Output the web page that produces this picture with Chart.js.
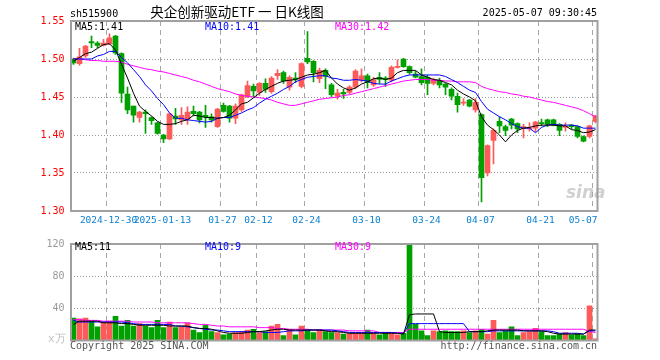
<!DOCTYPE html>
<html>
<head>
<meta charset="utf-8">
<script src="https://cdn.jsdelivr.net/npm/chart.js@4.4.1/dist/chart.umd.min.js"></script>
<style>
  html, body { margin: 0; padding: 0; background: #fff; }
  #wrap { position: relative; width: 660px; height: 360px; overflow: hidden; }
  #wrap canvas { position: absolute; left: 0; }
  .t { position: absolute; white-space: nowrap; font: 10px/10px "DejaVu Sans Mono", monospace; color: #000; }
</style>
</head>
<body>
<div id="wrap">
  <canvas id="price" width="660" height="232" style="top:0"></canvas>
  <canvas id="vol" width="660" height="128" style="top:232px"></canvas>

  <div class="t" style="left:70px;top:8.5px">sh515900</div>
  <div class="t" style="left:237px;top:5px;transform:translateX(-50%);font:13.5px/13.5px 'Noto Sans CJK SC',sans-serif">央企创新驱动ETF 一 日K线图</div>
  <div class="t" style="right:63px;top:8px">2025-05-07 09:30:45</div>

  <div class="t" style="left:75px;top:21.5px">MA5:1.41</div>
  <div class="t" style="left:205px;top:21.5px;color:#0000ff">MA10:1.41</div>
  <div class="t" style="left:335px;top:21.5px;color:#ff00ff">MA30:1.42</div>

  <div class="t" style="left:566px;top:184px;font:italic bold 17px/17px 'DejaVu Sans',sans-serif;color:rgba(150,150,150,0.45)">sina</div>

  <div class="t" style="left:75px;top:241.5px">MA5:11</div>
  <div class="t" style="left:205px;top:241.5px;color:#0000ff">MA10:9</div>
  <div class="t" style="left:335px;top:241.5px;color:#ff00ff">MA30:9</div>

  <div class="t" style="left:48px;top:334px;font-size:11px;color:#c0c0c0">x万</div>
  <div class="t" style="left:70px;top:340.5px;color:#555">Copyright 2025 SINA.COM</div>
  <div class="t" style="right:63px;top:340.5px;color:#555">http://finance.sina.com.cn</div>
</div>

<script>
/* data
# ------------------------------------------------------------------------------------------------
*/
const dates = [
  '12-20','12-23','12-24','12-25','12-26','12-27','12-30','12-31',
  '01-02','01-03','01-06','01-07','01-08','01-09','01-10','01-13','01-14','01-15','01-16','01-17',
  '01-20','01-21','01-22','01-23','01-24','01-27',
  '02-05','02-06','02-07','02-10','02-11','02-12','02-13','02-14','02-17','02-18','02-19','02-20',
  '02-21','02-24','02-25','02-26','02-27','02-28',
  '03-03','03-04','03-05','03-06','03-07','03-10','03-11','03-12','03-13','03-14','03-17','03-18',
  '03-19','03-20','03-21','03-24','03-25','03-26','03-27','03-28','03-31',
  '04-01','04-02','04-03','04-07','04-08','04-09','04-10','04-11','04-14','04-15','04-16','04-17',
  '04-18','04-21','04-22','04-23','04-24','04-25','04-28','04-29','04-30',
  '05-06','05-07'
];

const tickIdx = [6, 15, 25, 31, 39, 49, 59, 68, 78, 87];
const tickText = ['2024-12-30', '2025-01-13', '01-27', '02-12', '02-24', '03-10', '03-24', '04-07', '04-21', '05-07    '];

const opens = [
  1.500,1.494,1.504,1.523,1.521,1.518,1.520,1.530,1.507,1.454,
  1.438,1.423,1.430,1.423,1.416,1.400,1.395,1.425,1.420,1.421,
  1.431,1.430,1.426,1.424,1.411,1.439,1.438,1.422,1.433,1.450,
  1.464,1.456,1.468,1.457,1.478,1.482,1.463,1.475,1.464,1.501,
  1.497,1.474,1.485,1.466,1.451,1.456,1.456,1.463,1.472,1.478,
  1.466,1.476,1.475,1.472,1.489,1.500,1.490,1.480,1.477,1.476,
  1.468,1.472,1.467,1.460,1.451,1.442,1.446,1.433,1.427,1.350,
  1.393,1.418,1.411,1.421,1.415,1.409,1.408,1.409,1.416,1.420,
  1.420,1.414,1.410,1.413,1.411,1.398,1.398,1.418
];
const highs = [
  1.501,1.514,1.518,1.530,1.523,1.526,1.533,1.531,1.508,1.463,
  1.438,1.431,1.433,1.424,1.417,1.401,1.429,1.435,1.436,1.437,
  1.438,1.431,1.439,1.428,1.435,1.442,1.439,1.441,1.454,1.471,
  1.467,1.469,1.474,1.477,1.486,1.484,1.478,1.482,1.495,1.536,
  1.498,1.488,1.487,1.468,1.460,1.460,1.465,1.486,1.487,1.480,
  1.476,1.482,1.477,1.491,1.499,1.501,1.491,1.484,1.487,1.479,
  1.475,1.475,1.468,1.462,1.455,1.448,1.447,1.448,1.428,1.387,
  1.408,1.424,1.413,1.422,1.416,1.414,1.416,1.418,1.421,1.421,
  1.421,1.415,1.416,1.414,1.412,1.399,1.413,1.426
];
const lows = [
  1.493,1.492,1.502,1.515,1.515,1.517,1.519,1.506,1.443,1.428,
  1.417,1.417,1.402,1.414,1.401,1.390,1.394,1.414,1.414,1.414,
  1.425,1.416,1.410,1.417,1.410,1.430,1.417,1.415,1.431,1.449,
  1.450,1.452,1.456,1.455,1.473,1.468,1.459,1.469,1.462,1.494,
  1.470,1.469,1.461,1.450,1.447,1.448,1.454,1.461,1.470,1.462,
  1.464,1.468,1.464,1.470,1.488,1.489,1.480,1.475,1.466,1.453,
  1.466,1.462,1.453,1.446,1.430,1.439,1.437,1.430,1.312,1.346,
  1.362,1.403,1.399,1.408,1.403,1.396,1.405,1.404,1.412,1.411,
  1.412,1.399,1.405,1.408,1.396,1.391,1.396,1.416
];
const closes = [
  1.495,1.503,1.517,1.521,1.518,1.521,1.528,1.508,1.455,1.433,
  1.426,1.430,1.428,1.419,1.402,1.395,1.428,1.421,1.426,1.430,
  1.428,1.420,1.424,1.420,1.434,1.431,1.422,1.438,1.453,1.465,
  1.458,1.468,1.460,1.475,1.481,1.471,1.476,1.473,1.494,1.496,
  1.482,1.485,1.477,1.453,1.455,1.454,1.463,1.484,1.478,1.469,
  1.473,1.473,1.473,1.489,1.490,1.490,1.482,1.476,1.469,1.468,
  1.473,1.466,1.463,1.451,1.440,1.443,1.438,1.443,1.344,1.386,
  1.406,1.412,1.406,1.413,1.408,1.411,1.409,1.417,1.415,1.414,
  1.413,1.406,1.411,1.411,1.398,1.392,1.412,1.425
];

const ma5 = [
  1.497,1.502,1.507,1.509,1.514,1.519,1.520,1.512,1.493,1.475,
  1.455,1.438,1.431,1.425,1.418,1.414,1.414,1.415,1.418,1.420,
  1.426,1.425,1.423,1.423,1.422,1.423,1.426,1.433,1.441,1.443,
  1.449,1.455,1.460,1.464,1.468,1.471,1.472,1.473,1.476,1.479,
  1.480,1.482,1.485,1.475,1.467,1.462,1.459,1.462,1.467,1.470,
  1.474,1.475,1.473,1.475,1.482,1.485,1.485,1.485,1.479,1.476,
  1.473,1.472,1.469,1.466,1.459,1.454,1.450,1.445,1.424,1.413,
  1.407,1.400,1.391,1.400,1.406,1.409,1.410,1.412,1.413,1.413,
  1.413,1.412,1.412,1.407,1.406,1.403,1.404,1.407
];
const ma10 = [
  1.500,1.500,1.500,1.500,1.504,1.506,1.510,1.510,1.502,1.495,
  1.486,1.477,1.466,1.458,1.448,1.440,1.429,1.422,1.422,1.420,
  1.419,1.418,1.417,1.418,1.422,1.423,1.423,1.426,1.429,1.433,
  1.436,1.442,1.447,1.451,1.455,1.460,1.464,1.470,1.473,1.476,
  1.477,1.478,1.478,1.475,1.474,1.472,1.472,1.473,1.472,1.471,
  1.468,1.467,1.467,1.471,1.474,1.477,1.479,1.479,1.479,1.479,
  1.479,1.479,1.477,1.473,1.469,1.464,1.459,1.456,1.444,1.434,
  1.429,1.424,1.420,1.415,1.411,1.409,1.409,1.403,1.410,1.413,
  1.414,1.413,1.413,1.413,1.412,1.409,1.409,1.409
];
const ma30 = [
  1.501,1.500,1.499,1.498,1.498,1.497,1.497,1.497,1.496,1.493,
  1.491,1.489,1.487,1.486,1.484,1.483,1.481,1.479,1.477,1.475,
  1.472,1.470,1.467,1.464,1.461,1.459,1.457,1.454,1.452,1.451,
  1.450,1.449,1.448,1.446,1.443,1.441,1.439,1.439,1.441,1.443,
  1.445,1.447,1.448,1.449,1.450,1.452,1.453,1.455,1.457,1.459,
  1.461,1.463,1.465,1.467,1.469,1.471,1.472,1.473,1.473,1.473,
  1.472,1.472,1.471,1.471,1.470,1.470,1.470,1.469,1.464,1.461,
  1.459,1.457,1.456,1.454,1.453,1.451,1.450,1.448,1.446,1.444,
  1.443,1.441,1.439,1.437,1.435,1.432,1.428,1.424
];

const volumes = [
  28,27,28,24,17,23,24,30,18,25,
  18,21,18,16,25,16,23,16,17,22,
  13,10,19,11,10,7,8,10,11,13,
  14,10,11,18,20,6,14,7,18,13,
  10,14,11,10,10,8,9,9,9,13,
  9,7,9,9,7,9,130,20,12,6,
  12,11,12,11,11,12,10,12,14,8,
  25,10,12,17,6,10,11,15,11,6,
  6,8,10,7,8,6,43,2
];
const volMa5 = [
  20,24,24,24,24,22,22,22,21,21,
  20,19,19,19,19,19,18,18,18,18,
  16,15,15,14,12,10,9,9,9,10,
  11,11,12,13,14,14,13,13,13,13,
  13,13,12,11,11,10,9,9,9,9,
  9,9,9,9,9,8,32,33,33,33,
  33,11,10,10,10,10,11,11,11,12,
  13,13,13,13,13,12,12,12,12,11,
  9,8,8,8,8,8,13,13
];
const volMa10 = [
  25,23,23,23,23,23,23,23,23,22,
  21,20,20,20,20,20,20,18,18,17,
  16,15,14,13,13,12,11,11,11,11,
  11,11,10,10,10,11,12,12,12,13,
  13,13,13,13,12,11,10,10,10,10,
  10,10,10,10,9,9,21,21,21,21,
  21,21,21,21,21,21,11,11,11,11,
  12,12,12,12,12,12,12,12,12,12,
  11,9,9,9,9,8,12,12
];
const volMa30 = [
  26,26,25,25,25,24,24,24,24,24,
  23,23,23,23,22,22,22,22,22,22,
  21,20,20,19,18,18,17,17,17,17,
  17,16,16,16,15,15,14,14,14,14,
  13,13,13,13,13,13,12,12,12,12,
  12,10,10,10,10,10,14,14,14,14,
  14,14,14,14,14,14,14,14,14,14,
  14,14,14,14,14,14,14,14,14,14,
  14,14,14,14,14,14,11,10
];

/* setup
# ------------------------------------------------------------------------------------------------
*/
const UP = '#ff5a5a';
const DOWN = '#00a000';
const colors = closes.map((c, i) => c >= opens[i] ? UP : DOWN);
const mono = { family: 'DejaVu Sans Mono', size: 10 };

const frame = {
  id: 'frame',
  afterDraw(chart) {
    const { ctx, chartArea: a } = chart;
    ctx.save();
    ctx.strokeStyle = '#a0a0a0';
    ctx.lineWidth = 2;
    ctx.strokeRect(a.left + 0.5, a.top, a.right - a.left - 1.5, a.bottom - a.top);
    ctx.restore();
  }
};

function maLine(data, color) {
  return { type: 'line', data: data, borderColor: color, borderWidth: 1, pointRadius: 0, tension: 0, order: 0 };
}

function xScale(showLabels, height) {
  return {
    offset: true,
    grid: {
      offset: true,
      drawTicks: false,
      lineWidth: 1,
      color: ctx => tickIdx.includes(ctx.index) ? '#a8a8a8' : 'transparent'
    },
    border: { display: false, dash: [5, 4] },
    ticks: {
      autoSkip: false, maxRotation: 0, minRotation: 0, padding: 4, labelOffset: -1,
      color: '#0a80d0',
      font: { family: 'DejaVu Sans Mono', size: 9.5 },
      callback: (v, i) => {
        if (!showLabels) return '';
        const k = tickIdx.indexOf(i);
        return k < 0 ? '' : tickText[k];
      }
    },
    afterFit: s => { s.height = height; }
  };
}

function yGrid(lastIdx) {
  return {
    drawTicks: false,
    lineWidth: 1,
    color: ctx => (ctx.index === 0 || ctx.index === lastIdx) ? 'transparent' : '#999'
  };
}

const common = {
  responsive: false,
  animation: false,
  events: [],
  plugins: { legend: { display: false }, tooltip: { enabled: false } }
};

/* price chart
# ------------------------------------------------------------------------------------------------
*/
new Chart(document.getElementById('price'), {
  type: 'bar',
  data: {
    labels: dates,
    datasets: [
      maLine(ma5, '#000000'),
      maLine(ma10, '#0000ff'),
      maLine(ma30, '#ff00ff'),
      {
        data: lows.map((l, i) => [l, highs[i]]),
        backgroundColor: colors, borderWidth: 0,
        barThickness: 1, grouped: false, order: 2
      },
      {
        data: opens.map((o, i) => [o, closes[i]]),
        backgroundColor: colors, borderWidth: 0,
        barThickness: 5, grouped: false, minBarLength: 1, order: 1
      }
    ]
  },
  options: {
    ...common,
    layout: { padding: { top: 21, right: 61.5, bottom: 0, left: 0 } },
    scales: {
      x: xScale(true, 21),
      y: {
        min: 1.30, max: 1.55,
        grid: yGrid(5),
        border: { display: false, dash: [1, 2] },
        ticks: { stepSize: 0.05, padding: 6, color: '#ff0000', font: mono, callback: v => v.toFixed(2) },
        afterFit: s => { s.width = 70.5; }
      }
    }
  },
  plugins: [frame]
});

/* volume chart
# ------------------------------------------------------------------------------------------------
*/
new Chart(document.getElementById('vol'), {
  type: 'bar',
  data: {
    labels: dates,
    datasets: [
      maLine(volMa5, '#000000'),
      maLine(volMa10, '#0000ff'),
      maLine(volMa30, '#ff00ff'),
      {
        data: volumes,
        backgroundColor: colors, borderWidth: 0,
        barThickness: 5, order: 1
      }
    ]
  },
  options: {
    ...common,
    layout: { padding: { top: 8.5, right: 61.5, bottom: 0, left: 0 } },
    scales: {
      x: xScale(false, 19.5),
      y: {
        min: 0, max: 120,
        grid: yGrid(3),
        border: { display: false, dash: [1, 2] },
        ticks: { stepSize: 40, padding: 6, color: '#999', font: mono, callback: v => v === 0 ? '' : v },
        afterFit: s => { s.width = 70.5; }
      }
    }
  },
  plugins: [frame]
});
</script>
</body>
</html>
